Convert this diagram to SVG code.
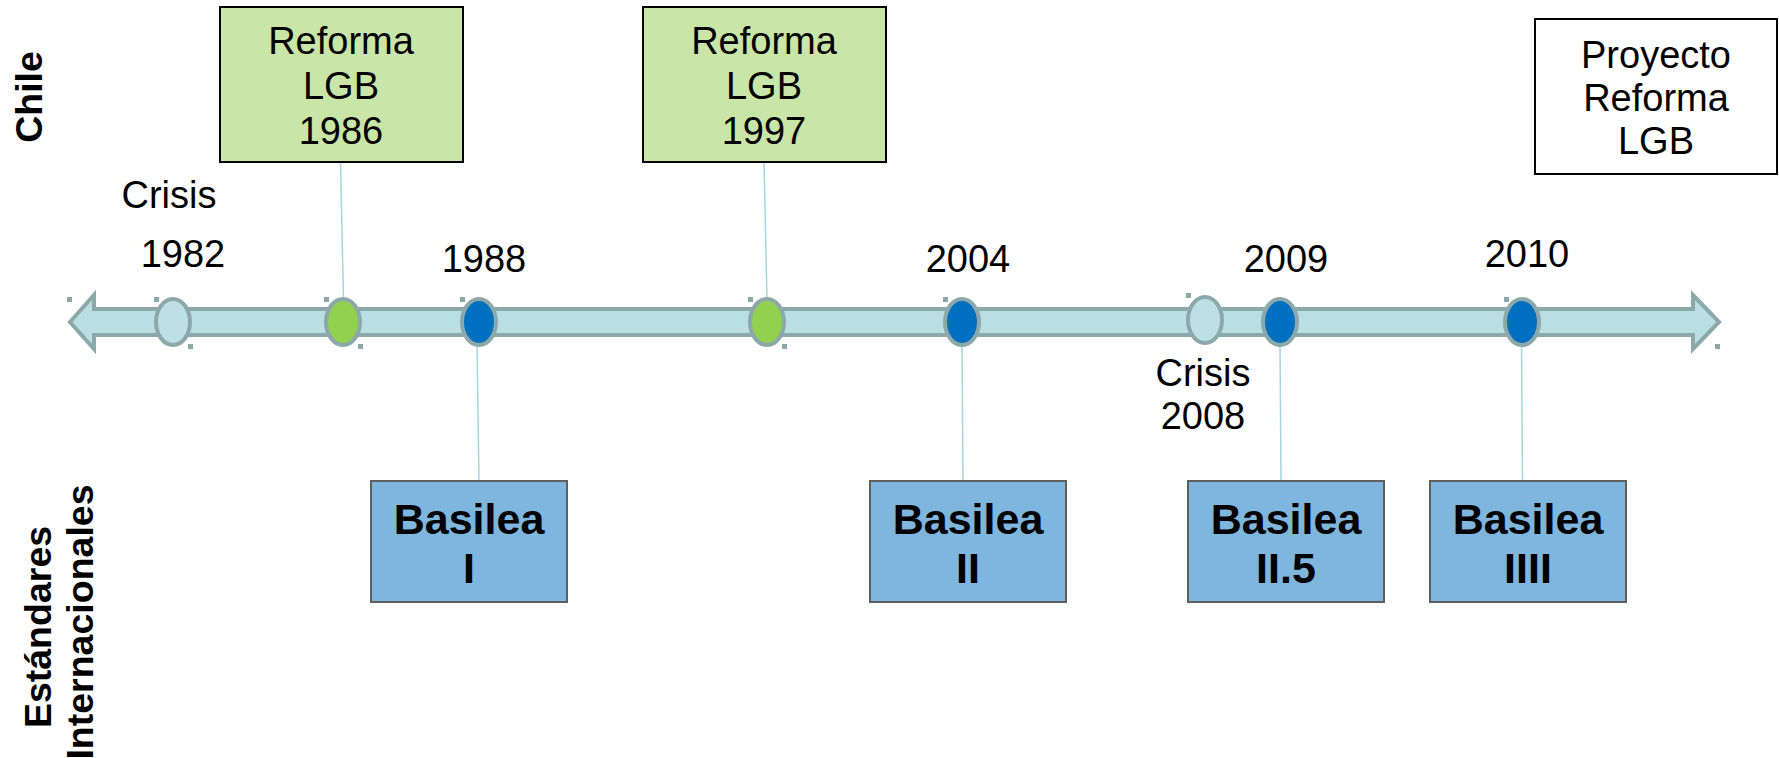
<svg xmlns="http://www.w3.org/2000/svg" width="1779" height="758" viewBox="0 0 1779 758">
<style>
.t{font-family:"Liberation Sans",Arial,sans-serif;font-size:38px;fill:#000;text-anchor:middle}
.b{font-family:"Liberation Sans",Arial,sans-serif;font-size:43px;font-weight:bold;fill:#000;text-anchor:middle}
.lab{font-family:"Liberation Sans",Arial,sans-serif;font-size:37.5px;font-weight:bold;fill:#000;text-anchor:middle}
.green{fill:#C9E5A8;stroke:#000;stroke-width:2}
.white{fill:#fff;stroke:#000;stroke-width:2}
.blue{fill:#7EB6DE;stroke:#5F5F5F;stroke-width:2}
.conn{stroke:#A6D6DE;stroke-width:1.5;fill:none}
.e{stroke:#8CA8AB;stroke-width:4}
.light{fill:#BCE0E4}
.eg{fill:#92D050}
.eb{fill:#0070C0}
.h{fill:#8CA8AB}
</style>
<rect width="1779" height="758" fill="#fff"/>
<g id="labels">
<text class="lab" transform="translate(42,97) rotate(-90)">Chile</text>
<text class="lab" transform="translate(51,627) rotate(-90)">Estándares</text>
<text class="lab" transform="translate(93,622) rotate(-90)">Internacionales</text>
</g>
<g id="connectors">
<line class="conn" x1="340.5" y1="162" x2="343.5" y2="300"/>
<line class="conn" x1="764" y1="162" x2="767" y2="300"/>
<line class="conn" x1="477" y1="344" x2="479" y2="481"/>
<line class="conn" x1="962" y1="344" x2="963" y2="481"/>
<line class="conn" x1="1280" y1="344" x2="1281" y2="481"/>
<line class="conn" x1="1521.5" y1="344" x2="1522.5" y2="481"/>
</g>
<g id="timeline">
<path d="M70,322 L94,295 L94,309 L1693,309 L1693,295 L1719,322 L1693,349 L1693,335 L94,335 L94,349 Z" fill="#B9DFE3" stroke="#8CA8AB" stroke-width="4" stroke-linejoin="miter"/>
<rect class="h" x="67" y="297" width="5" height="5"/>
<rect class="h" x="1715" y="344" width="5" height="5"/>
</g>
<g id="e1982"><ellipse class="e light" cx="173" cy="322" rx="17" ry="23"/><rect class="h" x="154" y="297" width="5" height="5"/><rect class="h" x="188" y="344" width="5" height="5"/></g>
<g id="e1986"><ellipse class="e eg" cx="343" cy="322" rx="17" ry="23"/><rect class="h" x="324" y="297" width="5" height="5"/><rect class="h" x="358" y="344" width="5" height="5"/></g>
<g id="e1988"><ellipse class="e eb" cx="479" cy="322" rx="17" ry="23"/><rect class="h" x="460" y="297" width="5" height="5"/></g>
<g id="e1997"><ellipse class="e eg" cx="767" cy="322" rx="17" ry="23"/><rect class="h" x="748" y="297" width="5" height="5"/><rect class="h" x="782" y="344" width="5" height="5"/></g>
<g id="e2004"><ellipse class="e eb" cx="962" cy="322" rx="17" ry="23"/><rect class="h" x="943" y="297" width="5" height="5"/></g>
<g id="e2008"><ellipse class="e light" cx="1205" cy="320" rx="17" ry="23"/><rect class="h" x="1186" y="293" width="5" height="5"/></g>
<g id="e2009"><ellipse class="e eb" cx="1280" cy="322" rx="17" ry="23"/></g>
<g id="e2010"><ellipse class="e eb" cx="1522" cy="322" rx="17" ry="23"/><rect class="h" x="1504" y="297" width="5" height="5"/></g>
<g id="years">
<text class="t" x="169" y="208">Crisis</text>
<text class="t" x="183" y="267">1982</text>
<text class="t" x="484" y="272">1988</text>
<text class="t" x="968" y="272">2004</text>
<text class="t" x="1286" y="272">2009</text>
<text class="t" x="1527" y="267">2010</text>
<text class="t" x="1203" y="386">Crisis</text>
<text class="t" x="1203" y="429">2008</text>
</g>
<g id="reforma1986">
<rect class="green" x="220" y="7" width="243" height="155"/>
<text class="t" x="341" y="54">Reforma</text>
<text class="t" x="341" y="99">LGB</text>
<text class="t" x="341" y="144">1986</text>
</g>
<g id="reforma1997">
<rect class="green" x="643" y="7" width="243" height="155"/>
<text class="t" x="764" y="54">Reforma</text>
<text class="t" x="764" y="99">LGB</text>
<text class="t" x="764" y="144">1997</text>
</g>
<g id="proyecto">
<rect class="white" x="1535" y="19" width="242" height="155"/>
<text class="t" x="1656" y="68">Proyecto</text>
<text class="t" x="1656" y="111">Reforma</text>
<text class="t" x="1656" y="154">LGB</text>
</g>
<g id="basileaI">
<rect class="blue" x="371" y="481" width="196" height="121"/>
<text class="b" x="469" y="534">Basilea</text>
<text class="b" x="469" y="583">I</text>
</g>
<g id="basileaII">
<rect class="blue" x="870" y="481" width="196" height="121"/>
<text class="b" x="968" y="534">Basilea</text>
<text class="b" x="968" y="583">II</text>
</g>
<g id="basileaII5">
<rect class="blue" x="1188" y="481" width="196" height="121"/>
<text class="b" x="1286" y="534">Basilea</text>
<text class="b" x="1286" y="583">II.5</text>
</g>
<g id="basileaIIII">
<rect class="blue" x="1430" y="481" width="196" height="121"/>
<text class="b" x="1528" y="534">Basilea</text>
<text class="b" x="1528" y="583">IIII</text>
</g>
</svg>
